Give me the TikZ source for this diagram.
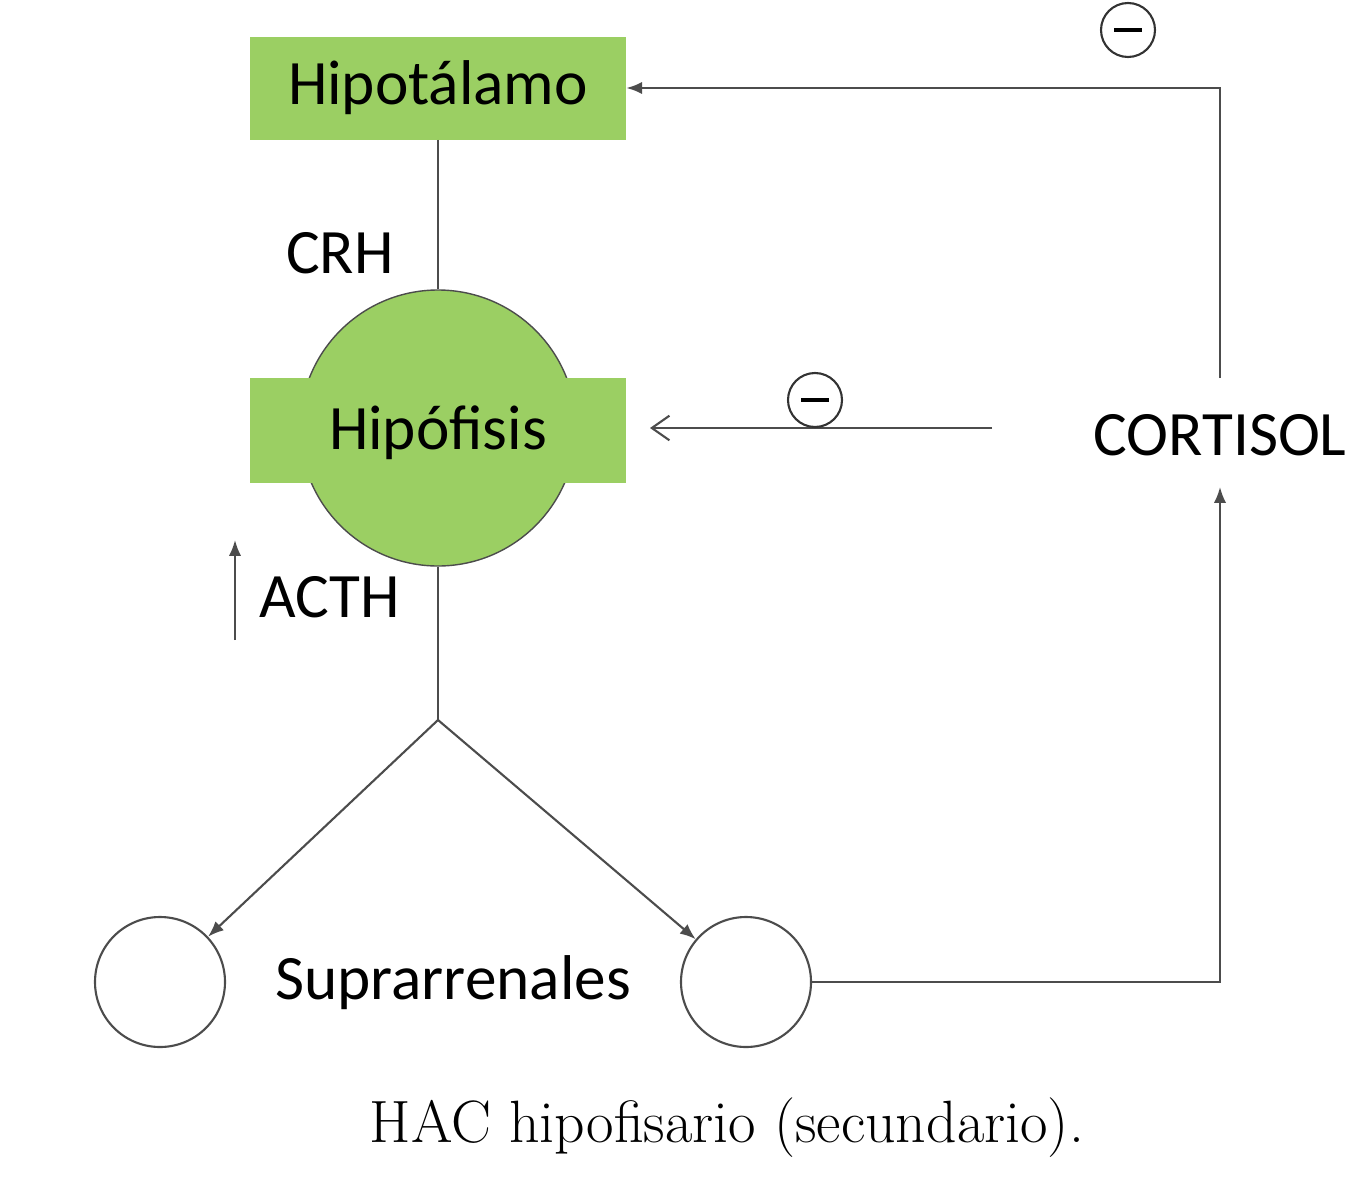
\documentclass[tikz,border=0pt]{standalone}
\usepackage{fontspec}
\setsansfont{Carlito}
\usetikzlibrary{arrows.meta}
\definecolor{gr}{HTML}{9BCF63}
\begin{document}
\begin{tikzpicture}[x=0.02cm,y=-0.02cm,
  ln/.style={draw=black!70,line width=1.2pt},
  arr/.style={ln,-{Latex[length=9pt,width=7pt]}},
  lbl/.style={font=\sffamily\fontsize{36}{40}\selectfont},
  minus/.style={circle,draw=black!80,line width=1.2pt,minimum size=54*0.02cm,inner sep=0pt}]
\useasboundingbox (0,0) rectangle (1369,1200);
\node[fill=gr,minimum width=376*0.02cm,minimum height=103*0.02cm,lbl] (hipo) at (438,88) {Hipotálamo};
\node[circle,fill=gr,draw=black!70,line width=0.8pt,minimum size=276*0.02cm] (circ) at (438,428) {};
\node[fill=gr,minimum width=376*0.02cm,minimum height=105*0.02cm] (rect) at (438,430) {};
\node[lbl] (hipof) at (438,433) {Hipófisis};
\node[lbl] (crh) at (340,253) {CRH};
\node[lbl] (acth) at (330,597) {ACTH};
\coordinate (a1) at (235,640); \coordinate (a2) at (235,540);
\draw[arr] (a1) -- (a2);
\coordinate (fork) at (438,720);
\draw[ln] (hipo.south) -- (circ.north);
\draw[ln] (circ.south) -- (fork);
\node[circle,draw=black!70,line width=1.2pt,minimum size=130*0.02cm] (l) at (160,982) {};
\node[circle,draw=black!70,line width=1.2pt,minimum size=130*0.02cm] (r) at (746,982) {};
\draw[arr] (fork) -- (l);
\draw[arr] (fork) -- (r);
\node[lbl] (supra) at (453,983) {Suprarrenales};
\node[lbl] (cort) at (1220,435) {CORTISOL};
\coordinate (c1) at (1220,982);
\draw[arr] (r.east) -- (c1) -- (1220,487);
\coordinate (c2) at (1220,88);
\draw[arr] (1220,378) -- (c2) -- (hipo.east);
\coordinate (h1) at (992,428); \coordinate (h2) at (650,428);
\draw[ln,-{Straight Barb[length=10pt,width=14pt]}] (h1) -- (h2);
\node[minus] (m1) at (1128,30) {};
\draw[line width=2.5pt] (1114,30) -- (1142,30);
\node[minus] (m2) at (815,400) {};
\draw[line width=2.5pt] (801,400) -- (829,400);
\node[font=\fontsize{34}{40}\selectfont] (cap) at (727,1128) {HAC hipofisario (secundario).};
\end{tikzpicture}
\end{document}
